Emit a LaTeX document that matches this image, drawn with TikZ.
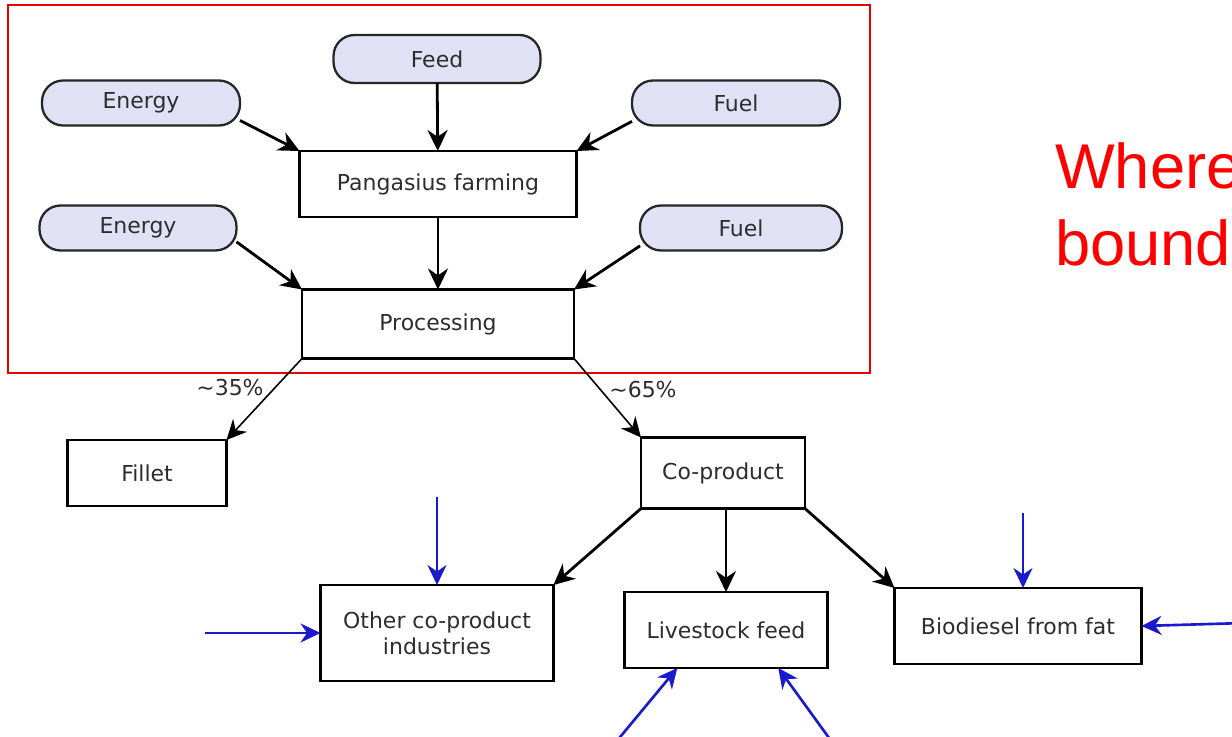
\documentclass[tikz,border=0pt]{standalone}
\usepackage{fontspec}
\setmainfont{DejaVu Sans}
\newfontfamily\qfont{Liberation Sans}
\usepackage{tikz}
\usetikzlibrary{arrows.meta, positioning}
\definecolor{pillfill}{RGB}{224,225,245}
\definecolor{txtgray}{RGB}{45,45,45}
\definecolor{arrblue}{RGB}{25,25,205}
\tikzset{
  procbox/.style={rectangle, draw=black, line width=1.4pt, fill=white, text=txtgray, align=center, inner sep=0pt, outer sep=0pt},
  inpill/.style={rectangle, rounded corners=0.42cm, draw=black!85, line width=1.3pt, fill=pillfill, text=txtgray, inner sep=0pt, outer sep=0pt, minimum height=0.9cm},
  flowarr/.style={-{Stealth[length=4.2mm, width=4mm]}, line width=1.6pt},
  thinarr/.style={-{Stealth[length=4mm, width=3.8mm]}, line width=0.9pt},
  extarr/.style={-{Stealth[length=4mm, width=3.8mm]}, line width=1.5pt, draw=arrblue},
}

\begin{document}
\begin{tikzpicture}[x=0.02cm, y=-0.02cm, font=\fontsize{12.5}{15}\selectfont]
\useasboundingbox (0,0) rectangle (1232,737);
\draw[red!90!black, line width=1.1pt] (8,5) rectangle (870,373);
\node[inpill, minimum width=4.14cm, minimum height=0.96cm] (feed) at (437,59) {Feed};
\node[inpill, minimum width=3.96cm] (en1) at (141,103) {Energy};
\node[inpill, minimum width=4.16cm] (fu1) at (736,103) {Fuel};
\node[procbox, minimum width=5.54cm, minimum height=1.32cm] (farm) at (438,184) {Pangasius farming};
\node[inpill, minimum width=3.94cm] (en2) at (138,228) {Energy};
\node[inpill, minimum width=4.04cm] (fu2) at (741,228) {Fuel};
\node[procbox, minimum width=5.44cm, minimum height=1.38cm] (proc) at (438,324) {Processing};
\node[procbox, minimum width=3.18cm, minimum height=1.32cm] (fillet) at (147,473) {Fillet};
\node[procbox, minimum width=3.28cm, minimum height=1.42cm] (cop) at (723,473) {Co-product};
\node[procbox, minimum width=4.66cm, minimum height=1.92cm] (other) at (437,633) {Other co-product\\industries};
\node[procbox, minimum width=4.06cm, minimum height=1.52cm] (live) at (726,630) {Livestock feed};
\node[procbox, minimum width=4.94cm, minimum height=1.52cm] (bio) at (1018,626) {Biodiesel from fat};
\node[text=txtgray] (p35) at (230,388) {\textasciitilde35\%};
\node[text=txtgray] (p65) at (643,390) {\textasciitilde65\%};
\node[anchor=base west, text=red, font=\fontsize{36}{43}\qfont] (qa) at (1049,188) {Where};
\node[anchor=base west, text=red, font=\fontsize{36}{43}\qfont] (qb) at (1049,265) {bound};
\coordinate (inoth1) at (437,497);
\coordinate (inoth2) at (205,633);
\coordinate (inbio1) at (1023,513);
\coordinate (inbio2) at (1245,623);
\coordinate (inliv1) at (616,742);
\coordinate (inliv2) at (832,742);
\draw[flowarr] (feed) -- (farm);
\draw[flowarr] (en1.-10) -- (farm.north west);
\draw[flowarr] (fu1.190) -- (farm.north east);
\draw[flowarr] (farm) -- (proc);
\draw[flowarr] (en2.-8) -- (proc.north west);
\draw[flowarr] (fu2.190) -- (proc.north east);
\draw[thinarr] (proc.south west) -- (fillet.north east);
\draw[thinarr] (proc.south east) -- (cop.north west);
\draw[flowarr] (cop.south west) -- (other.north east);
\draw[flowarr] (cop.south -| live.north) -- (live.north);
\draw[flowarr] (cop.south east) -- (bio.north west);
\draw[extarr] (inoth1) -- (other.north);
\draw[extarr] (inoth2) -- (other.west);
\draw[extarr] (inbio1) -- (inbio1 |- bio.north);
\draw[extarr] (inbio2) -- (bio.east);
\draw[extarr] (inliv1) -- (live.218);
\draw[extarr] (inliv2) -- (live.-36);
\end{tikzpicture}
\end{document}
